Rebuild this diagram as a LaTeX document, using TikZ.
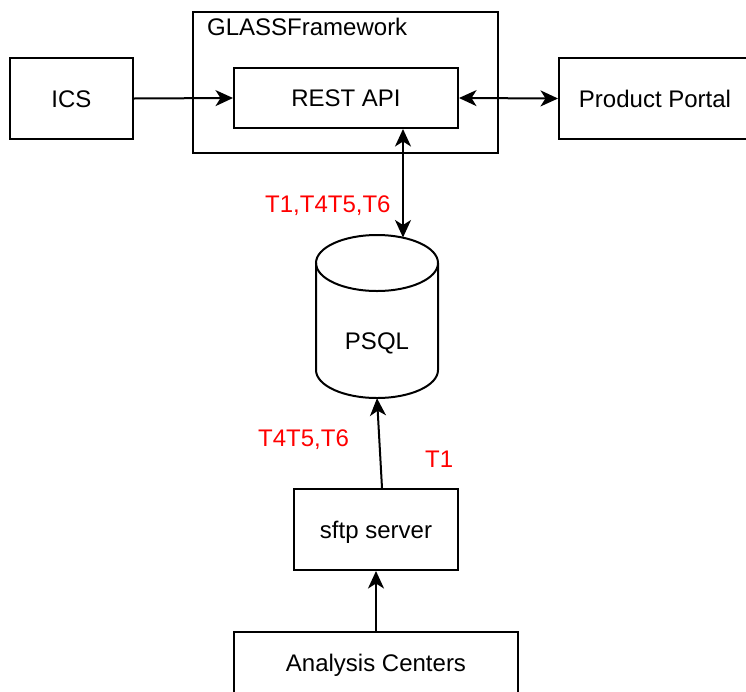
\documentclass[tikz,border=0pt]{standalone}
\usepackage{fontspec}
\setmainfont{Liberation Sans}
\usetikzlibrary{arrows.meta}
\begin{document}
\begin{tikzpicture}[x=1pt,y=-1pt,
  every node/.style={font=\fontsize{24}{28}\selectfont},
  box/.style={draw, line width=2pt, rectangle, inner sep=0pt, text height=17.2pt, text depth=0pt},
  lbl/.style={text=red, inner sep=0pt, anchor=base west},
  conn/.style={line width=2pt, -{Stealth[length=17.5pt,width=16pt,inset=5pt]}},
  conntwo/.style={line width=2pt, {Stealth[length=17.5pt,width=16pt,inset=5pt]}-{Stealth[length=17.5pt,width=16pt,inset=5pt]}},
  cyl/.style={line width=2pt}
]
\useasboundingbox (0,0) rectangle (746,691);
\fill[white] (0,0) rectangle (746,691);

% containers and boxes
\node[box, minimum width=305pt, minimum height=141pt] (glass) at (345.5,82.5) {};
\node[inner sep=0pt, anchor=base west] (glasslbl) at (207,35) {GLASSFramework};
\node[box, minimum width=224pt, minimum height=60pt] (rest) at (346,98) {REST API};
\node[box, minimum width=123pt, minimum height=81pt] (ics) at (71.5,98.5) {ICS};
\node[box, minimum width=192pt, minimum height=81pt] (pp) at (655,98.5) {Product Portal};

% PSQL cylinder
\node[inner sep=0pt, minimum width=122pt, minimum height=163pt] (psql) at (377,316.5) {};
\draw[cyl] (377,263) ellipse [x radius=61pt, y radius=28pt];
\draw[cyl] (316,263) -- (316,370) arc[start angle=180, end angle=360, x radius=61pt, y radius=28pt] -- (438,263);
\node[inner sep=0pt, anchor=base] (psqllbl) at (377,349) {PSQL};

\node[box, minimum width=164pt, minimum height=81pt] (sftp) at (376,529.5) {sftp server};
\node[box, minimum width=284pt, minimum height=62pt] (ac) at (376,663) {Analysis Centers};

% red labels
\node[lbl] (l1) at (265,212.7) {T1,T4T5,T6};
\node[lbl] (l2) at (258,446.7) {T4T5,T6};
\node[lbl] (l3) at (425,467.3) {T1};

% connectors
\coordinate (psqlin) at (403,237.5);
\draw[conn] (ics.east) -- (rest.west);
\draw[conntwo] (rest.east) -- (pp.west);
\draw[conntwo] (rest.south -| psqlin) -- (psqlin);
\draw[conn] ([xshift=6pt]sftp.north) -- (psql.south);
\draw[conn] (ac.north) -- (sftp.south);
\end{tikzpicture}
\end{document}
